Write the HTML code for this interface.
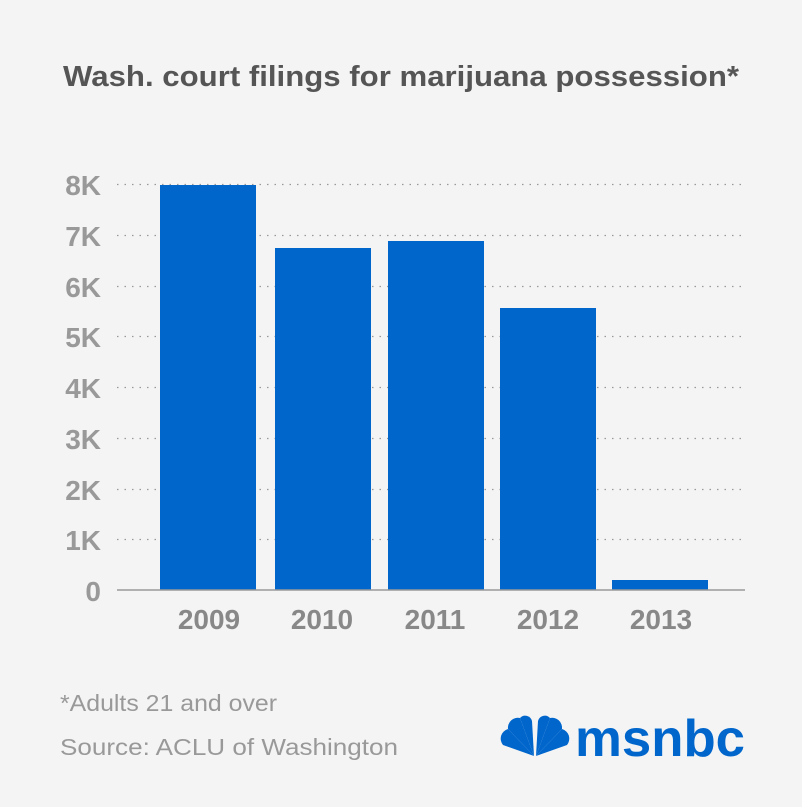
<!DOCTYPE html>
<html><head><style>
body{margin:0;background:#f4f4f4;font-family:"Liberation Sans",sans-serif}
</style></head><body>
<svg width="802" height="802" xmlns="http://www.w3.org/2000/svg">
<rect width="802" height="802" fill="#f4f4f4"/>
<text x="401" y="86" text-anchor="middle" font-size="29" font-weight="bold" fill="#555" textLength="676" lengthAdjust="spacingAndGlyphs" font-family="Liberation Sans,sans-serif">Wash. court filings for marijuana possession*</text>
<g stroke="#999" stroke-width="1.2" stroke-dasharray="1.5,6">
<line x1="117" x2="745" y1="184.5" y2="184.5"/>
<line x1="117" x2="745" y1="235.5" y2="235.5"/>
<line x1="117" x2="745" y1="286.5" y2="286.5"/>
<line x1="117" x2="745" y1="336.5" y2="336.5"/>
<line x1="117" x2="745" y1="387.5" y2="387.5"/>
<line x1="117" x2="745" y1="438.5" y2="438.5"/>
<line x1="117" x2="745" y1="489.5" y2="489.5"/>
<line x1="117" x2="745" y1="539.5" y2="539.5"/>
</g>
<g fill="#0066cc">
<rect x="160" y="185" width="96" height="405"/>
<rect x="275" y="248" width="96" height="342"/>
<rect x="388" y="241" width="96" height="349"/>
<rect x="500" y="308" width="96" height="282"/>
<rect x="612" y="580" width="96" height="10"/>
</g>
<line x1="117" x2="745" y1="590" y2="590" stroke="#999" stroke-width="1.5"/>
<g font-size="28" font-weight="bold" fill="#999" text-anchor="end" font-family="Liberation Sans,sans-serif">
<text x="101" y="195">8K</text><text x="101" y="246">7K</text><text x="101" y="297">6K</text>
<text x="101" y="347">5K</text><text x="101" y="398">4K</text><text x="101" y="449">3K</text>
<text x="101" y="500">2K</text><text x="101" y="550">1K</text><text x="101" y="601">0</text>
</g>
<g font-size="28" font-weight="bold" fill="#888" text-anchor="middle" font-family="Liberation Sans,sans-serif">
<text x="209" y="629">2009</text><text x="322" y="629">2010</text><text x="435" y="629">2011</text>
<text x="548" y="629">2012</text><text x="661" y="629">2013</text>
</g>
<text x="60" y="711" font-size="23.5" fill="#999" textLength="217" lengthAdjust="spacingAndGlyphs" font-family="Liberation Sans,sans-serif">*Adults 21 and over</text>
<text x="60" y="755" font-size="23.5" fill="#999" textLength="338" lengthAdjust="spacingAndGlyphs" font-family="Liberation Sans,sans-serif">Source: ACLU of Washington</text>
<g fill="#0066cc">
<path d="M534 756 L503 745 A10 10 0 0 1 508 729 Z"/>
<path d="M534 756 L508 729 A10 10 0 0 1 520 718 Z"/>
<path d="M534 756 L520 718 A7 7 0 0 1 532 721 Z"/>
<path d="M536 756 L538 721 A7 7 0 0 1 550 718 Z"/>
<path d="M536 756 L550 718 A10 10 0 0 1 562 729 Z"/>
<path d="M536 756 L562 729 A10 10 0 0 1 567 745 Z"/>
</g>
<text x="575" y="756" font-size="52" font-weight="bold" fill="#0066cc" textLength="170" lengthAdjust="spacingAndGlyphs" font-family="Liberation Sans,sans-serif">msnbc</text>
</svg>
</body></html>
